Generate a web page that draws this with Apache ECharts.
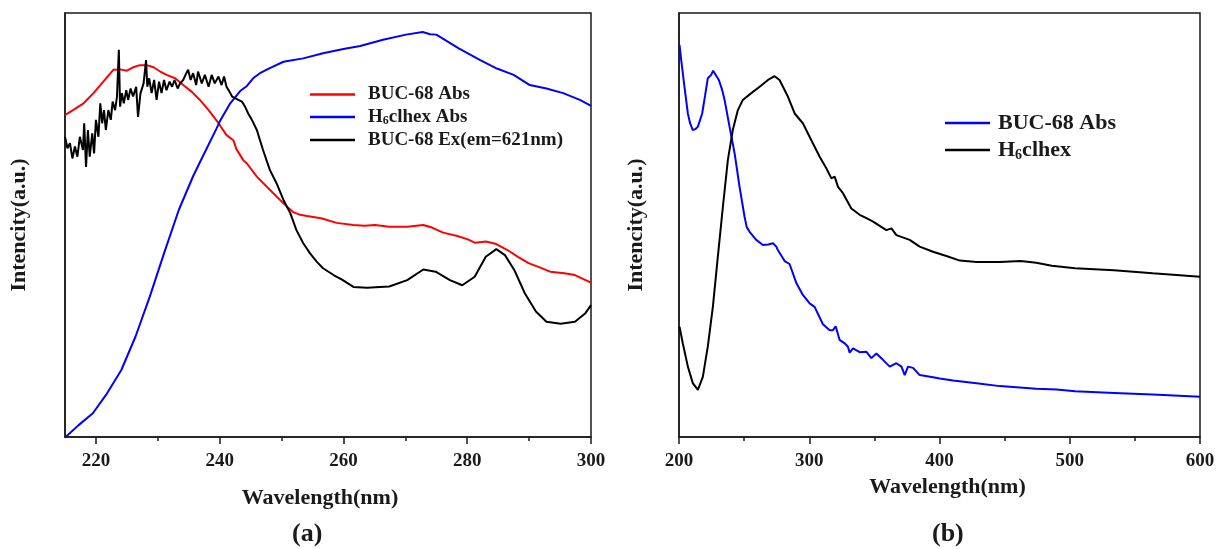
<!DOCTYPE html>
<html>
<head>
<meta charset="utf-8">
<script src="https://cdn.jsdelivr.net/npm/echarts@6/dist/echarts.min.js"></script>
<style>
  html, body { margin: 0; padding: 0; background: #fff; }
  #chart { width: 1218px; height: 549px; }
</style>
</head>
<body>
<div id="chart"></div>
<script>
// ---- Panel (a): absorption and excitation spectra, 215-300 nm ----
const aBucAbsWl = [215, 216.3, 218, 219.6, 221.2, 222.8, 223.9, 225, 226, 227.1, 228.2, 229.3, 230.4, 231.4, 232.8, 234.1, 235.5, 236.8, 238.2, 239.5, 240.0, 241.1, 242.2, 242.7, 243.8, 244.4, 246.0, 248.1, 250.3, 251.8, 253.0, 254.1, 256.4, 258.9, 261.6, 263.4, 265.1, 267.4, 270.3, 272.9, 274.3, 276.1, 278.4, 280.1, 281.3, 283, 284.7, 286.5, 288.2, 289.9, 291.7, 293.4, 295.7, 297.4, 300];
const aBucAbsI  = [75.9, 77.1, 78.7, 81.1, 83.8, 86.6, 86.7, 86.4, 87.2, 87.7, 87.7, 87.2, 86.2, 85.4, 84.6, 83.0, 81.4, 79.5, 77.1, 74.6, 73.6, 71.2, 70.0, 67.9, 65.3, 64.5, 61.4, 58.3, 55.1, 53.1, 52.4, 52.1, 51.6, 50.5, 50.0, 49.8, 50.0, 49.6, 49.6, 50.0, 49.4, 48.2, 47.4, 46.6, 45.8, 46.1, 45.5, 44.1, 42.5, 41.0, 40.0, 39.0, 38.6, 38.2, 36.4];

const aLigAbsWl = [215.1, 217.2, 219.5, 221.8, 224.1, 226.4, 228.7, 231.0, 233.4, 235.7, 236.8, 239.5, 240.0, 241.7, 243.3, 244.4, 245.4, 246.5, 248.1, 250.3, 253.5, 256.7, 260, 262.7, 266.4, 270.1, 272.8, 274.0, 275.0, 278.7, 282.1, 284.8, 287.5, 290.1, 292.8, 295.5, 298.2, 300];
const aLigAbsI  = [0, 2.8, 5.6, 10.3, 15.8, 23.7, 33.1, 43.3, 53.6, 61.5, 64.8, 72.8, 74.4, 78.7, 81.6, 82.8, 84.6, 85.8, 87.0, 88.5, 89.3, 90.5, 91.5, 92.2, 93.7, 94.9, 95.5, 95.0, 94.9, 91.6, 88.9, 86.9, 85.4, 83.0, 82.2, 81.1, 79.5, 78.1];

const aBucExWl = [215.0, 215.4, 215.8, 216.2, 216.6, 217.0, 217.4, 217.9, 218.1, 218.4, 218.7, 219.0, 219.4, 219.7, 220.0, 220.4, 220.7, 221.0, 221.3, 221.6, 222.0, 222.4, 222.7, 223.1, 223.4, 223.7, 223.9, 224.2, 224.5, 224.9, 225.2, 225.6, 226.0, 226.5, 226.8, 227.2, 227.7, 228.1, 228.3, 228.6, 229.0, 229.4, 229.8, 230.2, 230.6, 231.0, 231.4, 231.9, 232.3, 232.7, 233.2, 233.6, 234.1, 234.6, 234.9, 235.3, 235.7, 236.2, 236.5, 237.1, 237.6, 238.2, 238.7, 239.2, 239.8, 240.3, 240.7, 241.1, 241.6, 242.0, 242.5, 243.0, 243.6, 244.1, 244.6, 245.2, 246.0, 247.0, 248.1, 249.2, 250.3, 251.4, 252.4, 253.5, 254.6, 255.7, 256.7, 258.4, 259.9, 261.6, 263.8, 265.9, 267.4, 270.3, 272.9, 274.9, 277.2, 279.2, 281.2, 283.0, 284.7, 286.1, 287.6, 289.3, 291.1, 292.8, 295.1, 297.4, 299.1, 300];
const aBucExI  = [70.8, 68.1, 69.3, 65.7, 68.5, 66.1, 70.8, 67.7, 74.0, 63.7, 72.4, 66.1, 71.6, 66.9, 74.8, 70.8, 78.7, 74.0, 77.1, 72.4, 77.1, 74.8, 79.1, 77.1, 80.3, 91.3, 77.9, 81.1, 78.7, 81.8, 79.5, 82.2, 80.3, 82.6, 75.5, 81.1, 83.4, 88.9, 82.6, 84.6, 81.1, 84.2, 79.5, 83.8, 81.1, 84.2, 81.8, 83.8, 82.6, 84.2, 82.2, 83.4, 84.2, 85.8, 86.6, 84.2, 85.8, 83.0, 86.2, 83.4, 85.4, 82.6, 85.4, 83.4, 85.0, 83.0, 85.0, 82.6, 81.4, 80.3, 79.9, 79.5, 79.1, 77.9, 76.3, 74.8, 72.4, 67.7, 63.0, 59.8, 55.9, 52.8, 48.8, 45.7, 43.3, 41.3, 39.8, 38.2, 37.0, 35.4, 35.2, 35.4, 35.5, 37.0, 39.5, 39.0, 37.0, 35.8, 37.8, 42.5, 44.3, 42.9, 39.4, 33.9, 29.6, 27.2, 26.7, 27.2, 29.2, 31.1];

// ---- Panel (b): absorption spectra, 200-600 nm ----
const bBucAbsWl = [200.4, 201.7, 204.2, 206.8, 208.5, 210.6, 212.5, 214.5, 217.8, 220, 222.1, 224.7, 226.2, 227.3, 230.6, 233, 235, 238.8, 242.7, 246.5, 250.3, 252, 254.2, 259.3, 264.4, 268.6, 272.1, 274.7, 275.9, 281.1, 284.9, 290.1, 295.1, 300.3, 304.1, 310.5, 315.7, 318.2, 320.3, 323.3, 327.2, 329.7, 331, 333.6, 338.7, 343.9, 347.7, 351.5, 356.6, 361.8, 366.9, 370.8, 373.3, 375.8, 379.7, 384.8, 395, 400.2, 410.4, 428.4, 446.3, 474.3, 490, 504.1, 533.9, 563.7, 600];
const bBucAbsI  = [92.5, 88.9, 82.6, 76.3, 74.0, 72.4, 72.6, 73.2, 76.3, 80.5, 84.6, 85.4, 86.4, 86.2, 84.2, 82.0, 79.5, 73.2, 66.9, 59.0, 52.0, 49.5, 48.4, 46.5, 45.3, 45.4, 45.7, 44.9, 44.1, 41.5, 40.8, 36.3, 33.5, 31.5, 30.7, 26.6, 25.2, 25.2, 26.1, 22.9, 22.1, 21.3, 19.9, 20.9, 20.0, 20.1, 18.6, 19.7, 18.2, 16.6, 17.4, 16.6, 14.6, 16.6, 16.3, 14.6, 14.1, 13.8, 13.3, 12.7, 12.0, 11.4, 11.2, 10.8, 10.4, 10.0, 9.5];

const bLigWl = [200.4, 202.9, 206.8, 210.6, 214.5, 218.3, 222.1, 226.0, 229.8, 233.7, 237.5, 241.3, 245.2, 249.0, 255.5, 261.9, 268.3, 273.4, 277.2, 283.6, 288.8, 295.1, 301.6, 305.4, 308.0, 313.1, 317, 319.5, 322.1, 325.9, 332.3, 338.7, 343.9, 349.0, 359.2, 363.1, 366.9, 377.1, 384.8, 395, 405.3, 415.6, 428.4, 446.3, 462.3, 474.3, 486.2, 504.1, 533.9, 563.7, 600];
const bLigI  = [26.0, 22.1, 16.6, 12.7, 11.1, 14.2, 21.3, 30.7, 42.5, 54.3, 65.3, 72.4, 77.1, 79.5, 81.1, 82.6, 84.2, 85.1, 84.2, 80.3, 76.3, 74.0, 70.0, 67.7, 66.1, 63.4, 61.0, 61.4, 59.0, 57.5, 53.9, 52.4, 51.6, 50.8, 48.8, 49.2, 47.6, 46.5, 44.9, 43.7, 42.7, 41.6, 41.3, 41.3, 41.5, 41.1, 40.4, 39.8, 39.3, 38.6, 37.8];

// Axis tick positions
const aMajorTicks = [220, 240, 260, 280, 300];
const aMinorTicks = [230, 250, 270, 290];
const bMajorTicks = [200, 300, 400, 500, 600];
const bMinorTicks = [250, 350, 450, 550];

const zip = (xs, ys) => xs.map((x, i) => [x, ys[i]]);

const SERIF = "'Liberation Serif', 'Times New Roman', serif";
const INK = '#1a1a1a';

// Legend text, with the subscript in the ligand name
const legendText = {
  'BUC-68 Abs': '{t|BUC-68 Abs}',
  'H6clhex Abs': '{t|H}{s|6}{t|clhex Abs}',
  'BUC-68 Ex(em=621nm)': '{t|BUC-68 Ex(em=621nm)}',
  'BUC-68 Abs (b)': '{t|BUC-68 Abs}',
  'H6clhex (b)': '{t|H}{s|6}{t|clhex}'
};

function richFor(size, lh, subSize) {
  return {
    t: { fontFamily: SERIF, fontWeight: 'bold', fontSize: size, lineHeight: lh, color: INK },
    s: { fontFamily: SERIF, fontWeight: 'bold', fontSize: subSize, lineHeight: subSize, verticalAlign: 'bottom', color: INK }
  };
}

function xAxes(grid, min, max, major, minor, gap, shift) {
  return [
    {
      gridIndex: grid, type: 'value', min: min, max: max, position: 'bottom',
      axisLine: { show: true, lineStyle: { color: INK, width: 1.5 } },
      axisTick: { show: true, inside: false, length: 7, customValues: major, lineStyle: { color: INK, width: 1.5 } },
      axisLabel: { show: true, customValues: major, margin: 15, fontFamily: SERIF, fontWeight: 'bold', fontSize: 19, color: INK },
      splitLine: { show: false },
      name: 'Wavelength(nm)', nameLocation: 'middle', nameGap: gap,
      nameTextStyle: { fontFamily: SERIF, fontWeight: 'bold', fontSize: 22, color: INK,
        padding: shift < 0 ? [0, -2 * shift, 0, 0] : [0, 0, 0, 2 * shift] }
    },
    {
      gridIndex: grid, type: 'value', min: min, max: max, position: 'bottom',
      axisLine: { show: false },
      axisTick: { show: true, inside: false, length: 4, customValues: minor, lineStyle: { color: INK, width: 1.5 } },
      axisLabel: { show: false },
      splitLine: { show: false }
    }
  ];
}

function yAxis(grid, gap) {
  return {
    gridIndex: grid, type: 'value', min: 0, max: 100,
    axisLine: { show: true, lineStyle: { color: INK, width: 1.5 } },
    axisTick: { show: false }, axisLabel: { show: false }, splitLine: { show: false },
    name: 'Intencity(a.u.)', nameLocation: 'middle', nameGap: gap,
    nameTextStyle: { fontFamily: SERIF, fontWeight: 'bold', fontSize: 22, color: INK }
  };
}

function line(name, xi, yi, data, color, width) {
  return {
    name: name, type: 'line', xAxisIndex: xi, yAxisIndex: yi, data: data,
    symbol: 'none', smooth: false, lineStyle: { color: color, width: width }, itemStyle: { color: color },
    z: 3
  };
}

const chart = echarts.init(document.getElementById('chart'), null, { renderer: 'canvas' });

chart.setOption({
  animation: false,
  backgroundColor: '#ffffff',
  grid: [
    { left: 65, right: 627, top: 13, bottom: 112, show: true, borderColor: INK, borderWidth: 1.5 },
    { left: 679, right: 18, top: 13, bottom: 112, show: true, borderColor: INK, borderWidth: 1.5 }
  ],
  xAxis: [].concat(
    xAxes(0, 215, 300, aMajorTicks, aMinorTicks, 50, -8),
    xAxes(1, 200, 600, bMajorTicks, bMinorTicks, 35, 8)
  ),
  yAxis: [yAxis(0, 35), yAxis(1, 32)],
  title: [
    { text: '(a)', left: 292, top: 521, padding: 0,
      textStyle: { fontFamily: SERIF, fontWeight: 'bold', fontSize: 26, color: INK } },
    { text: '(b)', left: 932, top: 521, padding: 0,
      textStyle: { fontFamily: SERIF, fontWeight: 'bold', fontSize: 26, color: INK } }
  ],
  legend: [
    {
      data: ['BUC-68 Abs', 'H6clhex Abs', 'BUC-68 Ex(em=621nm)'],
      orient: 'vertical', left: 310, top: 85, padding: 0,
      icon: 'rect', itemWidth: 45, itemHeight: 2.5, itemGap: 3.5,
      formatter: n => legendText[n],
      textStyle: { padding: [0, 0, 0, 8], rich: richFor(19, 20, 12) },
      selectedMode: false
    },
    {
      data: ['BUC-68 Abs (b)', 'H6clhex (b)'],
      orient: 'vertical', left: 945, top: 112, padding: 0,
      icon: 'rect', itemWidth: 45, itemHeight: 2.5, itemGap: 5,
      formatter: n => legendText[n],
      textStyle: { padding: [0, 0, 0, 3], rich: richFor(22, 24, 14) },
      selectedMode: false
    }
  ],
  series: [
    line('BUC-68 Abs', 0, 0, zip(aBucAbsWl, aBucAbsI), '#ff0000', 2),
    line('H6clhex Abs', 0, 0, zip(aLigAbsWl, aLigAbsI), '#0000ff', 2),
    line('BUC-68 Ex(em=621nm)', 0, 0, zip(aBucExWl, aBucExI), '#000000', 2),
    line('BUC-68 Abs (b)', 2, 1, zip(bBucAbsWl, bBucAbsI), '#0000ff', 2),
    line('H6clhex (b)', 2, 1, zip(bLigWl, bLigI), '#000000', 2)
  ]
});
</script>
</body>
</html>
